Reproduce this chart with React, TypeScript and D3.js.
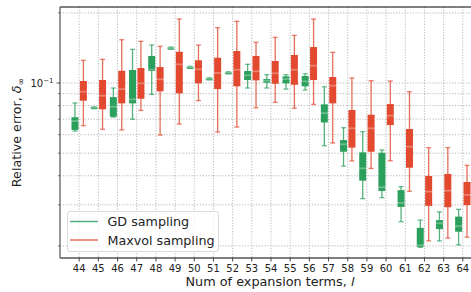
import React from 'react';
import * as d3 from 'd3';

const width = 471;
const height = 292;
const margin = { left: 60, top: 7, right: 482, bottom: 258 };

const terms = [44, 45, 46, 47, 48, 49, 50, 51, 52, 53, 54, 55, 56, 57, 58, 59, 60, 61, 62, 63, 64];

// [lower whisker, q1, median, q3, upper whisker]
const gdStats = [
  [0.0622, 0.0629, 0.0687, 0.0713, 0.0821],
  [0.0776, 0.0778, 0.0784, 0.0789, 0.0791],
  [0.0714, 0.0717, 0.0791, 0.0870, 0.0952],
  [0.0699, 0.0818, 0.0851, 0.1137, 0.1395],
  [0.0894, 0.1126, 0.1141, 0.1306, 0.1456],
  [0.1395, 0.1398, 0.1410, 0.1423, 0.1427],
  [0.1156, 0.1160, 0.1168, 0.1175, 0.1180],
  [0.1033, 0.1037, 0.1043, 0.1049, 0.1054],
  [0.1096, 0.1100, 0.1107, 0.1113, 0.1118],
  [0.0952, 0.1030, 0.1079, 0.1126, 0.1203],
  [0.0952, 0.1003, 0.1023, 0.1040, 0.1086],
  [0.0942, 0.0997, 0.1040, 0.1068, 0.1086],
  [0.0933, 0.0968, 0.1017, 0.1072, 0.1096],
  [0.0538, 0.0677, 0.0743, 0.0810, 0.0964],
  [0.0440, 0.0507, 0.0546, 0.0569, 0.0643],
  [0.0319, 0.0381, 0.0430, 0.0504, 0.0618],
  [0.0322, 0.0344, 0.0357, 0.0502, 0.0516],
  [0.0254, 0.0294, 0.0306, 0.0347, 0.0359],
  [0.0197, 0.0198, 0.0201, 0.0239, 0.0258],
  [0.0210, 0.0236, 0.0250, 0.0258, 0.0280],
  [0.0202, 0.0230, 0.0243, 0.0267, 0.0287],
];

const maxvolStats = [
  [0.0656, 0.0840, 0.0918, 0.1020, 0.1252],
  [0.0633, 0.0771, 0.0882, 0.1030, 0.1264],
  [0.0629, 0.0818, 0.0942, 0.1129, 0.1534],
  [0.0763, 0.0856, 0.0997, 0.1160, 0.1510],
  [0.0598, 0.0921, 0.1037, 0.1171, 0.1438],
  [0.0667, 0.0903, 0.1203, 0.1362, 0.1883],
  [0.0840, 0.0997, 0.1145, 0.1252, 0.1456],
  [0.0616, 0.0942, 0.1104, 0.1284, 0.1727],
  [0.0647, 0.0968, 0.1141, 0.1372, 0.1840],
  [0.0783, 0.1027, 0.1123, 0.1306, 0.1496],
  [0.0826, 0.0993, 0.1101, 0.1243, 0.1571],
  [0.0779, 0.0983, 0.1141, 0.1319, 0.1602],
  [0.0810, 0.1030, 0.1187, 0.1427, 0.1883],
  [0.0553, 0.0818, 0.0974, 0.1061, 0.1354],
  [0.0463, 0.0528, 0.0639, 0.0766, 0.1051],
  [0.0430, 0.0507, 0.0639, 0.0731, 0.1023],
  [0.0464, 0.0660, 0.0724, 0.0812, 0.1020],
  [0.0343, 0.0433, 0.0533, 0.0635, 0.0918],
  [0.0210, 0.0297, 0.0342, 0.0399, 0.0528],
  [0.0216, 0.0293, 0.0345, 0.0407, 0.0528],
  [0.0218, 0.0299, 0.0331, 0.0376, 0.0443],
];

const minorTicks = [0.02, 0.03, 0.04, 0.05, 0.06, 0.07, 0.08, 0.09, 0.2];
const seriesNames = ['GD sampling', 'Maxvol sampling'];

const green = '#2b9f5c';
const red = '#e2492f';
const font = 'DejaVu Sans, sans-serif';

const x = d3.scaleLinear().domain([43, 65]).range([margin.left, margin.right]);
const y = d3.scaleLog().domain([0.01774, 0.212]).range([margin.bottom, margin.top]);

const boxW = 7;
const offset = 4.2;

const Box = ({ cx, s, color }: { cx: number; s: number[]; color: string }) => {
  const [lo, q1, med, q3, hi] = s;
  const top = y(q3);
  const bot = y(q1);
  return (
    <g>
      <line x1={cx} x2={cx} y1={y(hi)} y2={y(lo)} stroke={color} strokeWidth={1.3} strokeOpacity={0.8} />
      <line x1={cx - 2.5} x2={cx + 2.5} y1={y(hi)} y2={y(hi)} stroke={color} strokeWidth={1.3} strokeOpacity={0.7} />
      <line x1={cx - 2.5} x2={cx + 2.5} y1={y(lo)} y2={y(lo)} stroke={color} strokeWidth={1.3} strokeOpacity={0.7} />
      <rect x={cx - boxW / 2} y={top} width={boxW} height={Math.max(bot - top, 2)} fill={color} />
      <line x1={cx - boxW / 2 - 0.5} x2={cx + boxW / 2 + 0.5} y1={y(med)} y2={y(med)} stroke="#ffffff" strokeOpacity={0.3} strokeWidth={1.8} />
    </g>
  );
};

const App = () => (
  <svg width={width} height={height} style={{ position: 'absolute', left: 0, top: 0 }}>
    <rect width={width} height={height} fill="white" />
    {/* grid */}
    {terms.map(t => (
      <line key={'gx' + t} x1={x(t)} x2={x(t)} y1={margin.top} y2={margin.bottom} stroke="#b0b0b0" strokeWidth={0.9} strokeDasharray="1.2,1.6" />
    ))}
    {[...minorTicks, 0.1].map(v => (
      <line key={'gy' + v} x1={margin.left} x2={margin.right} y1={y(v)} y2={y(v)} stroke="#b0b0b0" strokeWidth={0.9} strokeDasharray="1.2,1.6" />
    ))}
    {/* boxes */}
    {terms.map((t, i) => (
      <g key={'b' + t}>
        <Box cx={x(t) - offset} s={gdStats[i]} color={green} />
        <Box cx={x(t) + offset} s={maxvolStats[i]} color={red} />
      </g>
    ))}
    {/* spines */}
    <line x1={margin.left} x2={margin.right} y1={margin.top} y2={margin.top} stroke="black" strokeWidth={1} />
    <line x1={margin.left} x2={margin.right} y1={margin.bottom} y2={margin.bottom} stroke="black" strokeWidth={1} />
    <line x1={margin.left} x2={margin.left} y1={margin.top} y2={margin.bottom} stroke="#555" strokeWidth={1.2} />
    {/* y ticks */}
    {minorTicks.map(v => (
      <line key={'ty' + v} x1={margin.left - 2} x2={margin.left} y1={y(v)} y2={y(v)} stroke="#333" strokeWidth={0.6} />
    ))}
    <line x1={margin.left - 3.5} x2={margin.left} y1={y(0.1)} y2={y(0.1)} stroke="#222" strokeWidth={0.8} />
    <text x={margin.left - 6.5} y={y(0.1) + 3.5} textAnchor="end" fontFamily={font} fontSize={10} fill="#222">
      10<tspan dy={-4} fontSize={7}>−1</tspan>
    </text>
    {/* x ticks */}
    {terms.map(t => (
      <g key={'tx' + t}>
        <line x1={x(t)} x2={x(t)} y1={margin.bottom} y2={margin.bottom + 3.5} stroke="#222" strokeWidth={0.8} />
        <text x={x(t)} y={margin.bottom + 14} textAnchor="middle" fontFamily={font} fontSize={10} fill="#222">{t}</text>
      </g>
    ))}
    <text x={270} y={285.5} textAnchor="middle" fontFamily={font} fontSize={12.8} fill="#222">
      Num of expansion terms, <tspan fontStyle="italic">l</tspan>
    </text>
    <text transform={`translate(21, ${(margin.top + margin.bottom) / 2}) rotate(-90)`} textAnchor="middle" fontFamily={font} fontSize={12.7} fill="#222">
      Relative error, <tspan fontStyle="italic">δ</tspan><tspan fontSize={9} dy={3}>∞</tspan>
    </text>
    {/* legend */}
    <rect x={67.5} y={211.5} width={151} height={40} rx={2.5} fill="white" fillOpacity={0.8} stroke="#d0d0d0" strokeWidth={0.8} />
    {seriesNames.map((name, i) => (
      <g key={name}>
        <line x1={70} x2={98} y1={221.5 + i * 18.5} y2={221.5 + i * 18.5} stroke={i === 0 ? green : red} strokeWidth={1.4} strokeOpacity={0.85} />
        <text x={107.5} y={226 + i * 18.5} fontFamily={font} fontSize={12.7} fill="#222">{name}</text>
      </g>
    ))}
  </svg>
);

export default App;
